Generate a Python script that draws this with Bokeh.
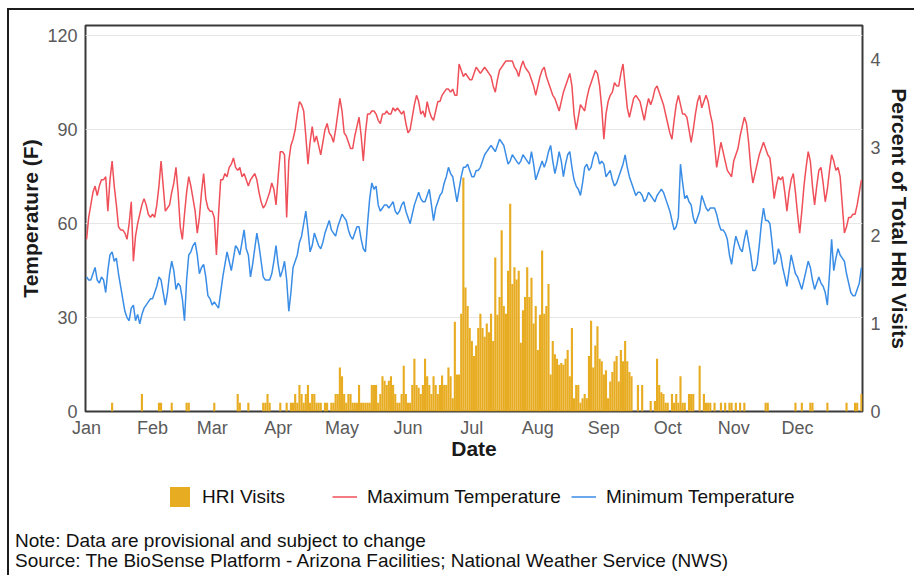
from bokeh.plotting import figure
from bokeh.layouts import column
from bokeh.models import Range1d, LinearAxis, FixedTicker, Legend, LegendItem, Div
from bokeh.embed import file_html
from bokeh.resources import INLINE

# ---------------- data ----------------
month_names = ["Jan", "Feb", "Mar", "Apr", "May", "Jun", "Jul", "Aug", "Sep", "Oct", "Nov", "Dec"]
month_start = [0, 31, 59, 90, 120, 151, 181, 212, 243, 273, 304, 334]
temp_ticks = [0, 30, 60, 90, 120]
pct_ticks = [0, 1, 2, 3, 4]

# Daily maximum temperature (F), by month
tmax_jan = [55,62,66,70,72,69,72,74,74,75,64,74,80,72,66,59,58,58,57,55,60,67,48,56,60,63,66,68,66,63,62]
tmax_feb = [63,62,66,72,80,72,64,65,66,70,73,78,70,59,55,63,70,75,72,68,64,57,62,70,76,68,65,64]
tmax_mar = [64,62,50,63,74,74,76,75,78,79,81,78,77,78,75,76,74,72,74,75,76,74,70,67,65,66,68,70,73,71,66]
tmax_apr = [75,83,83,82,62,80,85,87,90,95,99,98,96,88,79,86,91,86,88,85,82,86,90,92,89,88,86,90,95,100]
tmax_may = [96,89,88,86,84,84,88,91,94,88,80,89,95,95,96,96,95,93,92,95,95,96,95,95,97,96,97,96,95,96,92]
tmax_jun = [89,90,94,98,101,99,95,96,94,99,96,94,93,96,99,99,101,102,103,103,102,103,101,101,111,109,107,108,107,106]
tmax_jul = [106,108,110,109,108,109,110,109,108,107,104,102,106,109,110,111,112,112,112,112,110,109,107,110,112,110,109,108,106,104,101]
tmax_aug = [104,107,109,110,107,105,103,101,100,98,96,99,102,104,106,108,104,95,90,94,98,97,96,100,103,105,107,109,108,104,97]
tmax_sep = [87,95,99,101,102,105,104,104,108,111,104,97,94,97,100,101,100,99,96,93,97,100,98,100,103,104,102,100,98,95]
tmax_oct = [92,89,87,93,98,101,98,95,95,94,90,86,90,95,99,101,97,99,101,99,95,92,85,78,82,86,83,80,77,76,75]
tmax_nov = [80,82,84,88,91,94,92,86,78,73,76,79,82,84,86,84,82,81,75,68,72,75,74,75,70,64,70,74,76,70]
tmax_dec = [63,57,64,72,78,83,80,72,66,72,77,78,73,67,71,77,82,80,77,78,75,66,57,59,62,62,63,63,66,70,74]

# Daily minimum temperature (F), by month
tmin_jan = [43,42,42,44,46,42,41,43,42,38,45,50,51,48,49,44,40,36,32,30,29,33,34,29,31,28,31,33,34,35,36]
tmin_feb = [36,38,40,43,42,38,34,38,44,48,45,39,41,40,36,29,42,50,51,53,54,50,44,46,47,43,37,36]
tmin_mar = [34,35,34,33,38,43,47,51,48,45,49,53,52,50,54,58,52,50,43,47,52,57,53,48,43,42,42,42,44,48,53]
tmin_apr = [47,43,45,48,42,32,38,46,48,50,54,56,60,64,58,51,53,57,55,53,52,54,57,59,61,58,57,56,59,61]
tmin_may = [63,62,61,58,56,55,57,59,59,55,52,51,60,68,73,71,72,66,64,65,66,66,65,66,67,64,63,64,66,67,64]
tmin_jun = [62,60,63,66,68,70,68,67,67,69,71,66,61,65,67,69,70,73,75,78,76,75,71,67,71,75,78,78,79,77]
tmin_jul = [75,75,77,77,78,80,82,83,84,85,84,83,85,87,86,85,82,79,80,82,81,80,79,80,82,81,80,79,83,79,74]
tmin_aug = [76,78,80,78,80,83,85,80,76,79,83,80,75,79,82,83,78,74,72,71,69,73,78,79,77,78,81,83,82,79,80]
tmin_sep = [79,75,76,77,74,72,73,75,77,79,82,78,75,73,71,69,70,70,69,67,68,70,69,68,67,69,70,71,70,68]
tmin_oct = [66,64,61,58,59,62,79,73,68,69,67,66,62,60,62,64,69,67,65,64,65,65,65,63,60,58,58,57,55,50,47]
tmin_nov = [52,56,54,52,51,55,58,54,50,45,45,47,53,60,65,61,61,60,54,47,48,52,50,46,43,40,45,50,47,44]
tmin_dec = [43,41,39,42,45,48,46,42,39,41,43,41,40,38,34,44,55,45,49,52,50,49,48,44,41,38,37,37,39,41,46]

# Daily HRI visits (percent of total), by month
hri_jan = [0,0,0,0,0,0,0,0,0,0, 0,0,.1,0,0,0,0,0,0,0, 0,0,0,0,0,0,.2,0,0,0, 0]
hri_feb = [0,0,0,.1,.1,0,0,0,0,.1, 0,0,0,0,0,0,.1,.1,0,0, 0,0,0,0,0,0,0,0]
hri_mar = [0,.1,0,0,0,0,0,0,0,0, 0,0,.2,.1,0,0,0,.1,0,0, 0,0,0,0,.1,.1,.2,.1,0,0, 0]
hri_apr = [0,.1,0,0,.1,0,.1,.1,.2,.1, .3,.2,.1,.2,.3,.1,.2,.2,.1,.1, .1,0,.1,.1,0,.1,.1,.2,.2,.5]
hri_may = [.4,.2,.1,.2,.2,.1,.1,.1,.3,.1, .1,.1,.1,.1,.3,.3,.3,.1,.2,.4, .35,.3,.35,.4,.3,.2,.1,.1,.2,.52, .2]
hri_jun = [.1,.1,.3,.6,.3,.27,.2,.3,.6,.4, .3,.2,.4,.3,.2,.3,.41,.3,.3,.5, .4,.15,1.02,.42,.42,1.11,2.66,1.41,1.2,.95]
hri_jul = [.8,.63,.75,.95,1.11,.95,.85,1.0,.9,1.11, .8,1.75,1.1,1.3,2.06,1.2,1.11,1.6,2.36,1.45, 1.64,1.5,1.6,.78,1.15,1.3,1.64,1.3,1.52,1.0, 1.2]
hri_aug = [.7,1.1,1.83,1.11,1.2,1.45,.42,.8,.65,.6, .53,.55,.53,.6,.7,.4,.95,.15,.3,.3, .1,.15,.2,.15,.63,1.03,.5,.75,.97,.6, .57]
hri_sep = [.42,.47,.15,.34,.45,.57,.63,.34,.7,.57, .8,.57,.45,.4,0,0,.3,0,.3,0, 0,0,.12,0,.12,.6,.3,.22,.2,.1]
hri_oct = [.1,0,.2,.1,.2,.1,.4,.1,.1,0, .2,.2,.2,0,0,.52,0,.2,.1,.1, .1,0,.1,0,0,.1,0,.1,0,.1, .1]
hri_nov = [0,.1,0,.1,0,.1,0,0,0,0, 0,0,0,0,0,.1,.1,0,0,0, 0,0,0,0,0,0,0,0,0,.1]
hri_dec = [0,0,.1,0,0,0,.1,.1,0,0, 0,0,0,0,.1,0,0,0,0,0, 0,0,0,.1,0,0,0,.1,.1,0, .2]

legend_labels = ["HRI Visits", "Maximum Temperature", "Minimum Temperature"]
note_text = "Note: Data are provisional and subject to change"
source_text = "Source: The BioSense Platform - Arizona Facilities; National Weather Service (NWS)"

tmax = (tmax_jan + tmax_feb + tmax_mar + tmax_apr + tmax_may + tmax_jun +
        tmax_jul + tmax_aug + tmax_sep + tmax_oct + tmax_nov + tmax_dec)
tmin = (tmin_jan + tmin_feb + tmin_mar + tmin_apr + tmin_may + tmin_jun +
        tmin_jul + tmin_aug + tmin_sep + tmin_oct + tmin_nov + tmin_dec)
hri = (hri_jan + hri_feb + hri_mar + hri_apr + hri_may + hri_jun +
       hri_jul + hri_aug + hri_sep + hri_oct + hri_nov + hri_dec)
days = list(range(len(tmax)))

FONT = "Liberation Sans"
GOLD = "#E8AC22"
RED = "#EF4F58"
BLUE = "#3A8DE6"

# ---------------- main chart ----------------
p = figure(width=904, height=458, output_backend="svg", toolbar_location=None,
           x_range=Range1d(-0.5, 364.5), y_range=Range1d(0, 123.3),
           min_border_left=76, min_border_right=48, min_border_top=15, min_border_bottom=57)
p.extra_y_ranges = {"pct": Range1d(0, 4.386)}

p.outline_line_color = "#3a3a3a"
p.outline_line_width = 2
p.background_fill_color = "white"
p.border_fill_color = "white"

p.vbar(x=days[:len(hri)], top=hri, width=1.0, y_range_name="pct",
       fill_color=GOLD, line_color=None)
p.line(days, tmax, line_color=RED, line_width=1.5)
p.line(days, tmin, line_color=BLUE, line_width=1.5)

xa = p.xaxis[0]
xa.ticker = FixedTicker(ticks=month_start)
xa.major_label_overrides = {d: m for d, m in zip(month_start, month_names)}
xa.axis_label = "Date"

ya = p.yaxis[0]
ya.ticker = FixedTicker(ticks=temp_ticks)
ya.axis_label = "Temperature (F)"

ra = LinearAxis(y_range_name="pct", ticker=FixedTicker(ticks=pct_ticks),
                axis_label="Percent of Total HRI Visits")
p.add_layout(ra, "right")

for ax in [xa, ya, ra]:
    ax.axis_line_color = None
    ax.major_tick_line_color = None
    ax.minor_tick_line_color = None
    ax.major_tick_out = 0
    ax.major_tick_in = 0
    ax.minor_tick_out = 0
    ax.minor_tick_in = 0
    ax.major_label_text_font = FONT
    ax.major_label_text_font_size = "18px"
    ax.major_label_text_color = "#5a5a5a"
    ax.axis_label_text_font = FONT
    ax.axis_label_text_font_style = "bold"
    ax.axis_label_text_font_size = "21px"
    ax.axis_label_text_color = "#1a1a1a"
xa.major_label_standoff = 6
xa.axis_label_standoff = -4
ya.major_label_standoff = 8
ya.axis_label_standoff = 2
ra.major_label_standoff = 8
ra.axis_label_standoff = 4

p.xgrid.visible = False
p.ygrid.ticker = FixedTicker(ticks=temp_ticks)
p.ygrid.grid_line_color = "#e6e6e6"

# ---------------- legend strip ----------------
q = figure(width=904, height=50, output_backend="svg", toolbar_location=None,
           x_range=Range1d(0, 1), y_range=Range1d(0, 1),
           x_axis_location=None, y_axis_location=None, min_border=0)
q.outline_line_color = None
q.grid.visible = False
q.background_fill_color = "white"
q.border_fill_color = "white"

# legend-only renderers with no visible extent in this strip
lb = q.vbar(x=[-5], top=[0], bottom=[0], width=0.0, fill_color=GOLD, line_color=None)
lr = q.line(x=[-6, -5], y=[-5, -5], line_color=RED, line_width=1.5)
ll = q.line(x=[-6, -5], y=[-5, -5], line_color=BLUE, line_width=1.5)

legend = Legend(items=[LegendItem(label=legend_labels[0], renderers=[lb]),
                       LegendItem(label=legend_labels[1], renderers=[lr]),
                       LegendItem(label=legend_labels[2], renderers=[ll])],
                orientation="horizontal", location=(82, 9),
                border_line_color=None, background_fill_alpha=0,
                glyph_width=25, glyph_height=25, label_standoff=10,
                spacing=10, label_width=120, margin=0, padding=0,
                label_text_font=FONT, label_text_font_size="19px", label_text_color="#111111")
q.add_layout(legend, "center")

# ---------------- notes ----------------
notes = Div(text=note_text + "<br>" + source_text, width=904, height=55,
            styles={"font-family": FONT, "font-size": "19px", "color": "#111111",
                    "line-height": "20px", "padding-top": "8px", "padding-left": "1px",
                    "background-color": "white", "white-space": "nowrap"})

layout = column(p, q, notes, spacing=0)
layout.styles = {"margin-top": "8px", "margin-left": "7px",
                 "border-top": "2px solid #1c1c1c", "border-left": "2px solid #1c1c1c"}

open("out.html", "w").write(file_html(layout, INLINE))
